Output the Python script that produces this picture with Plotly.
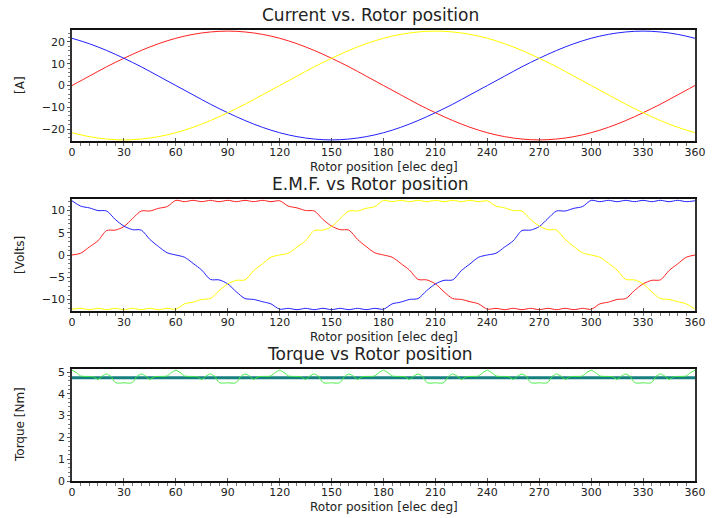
import plotly.graph_objects as go
from plotly.subplots import make_subplots

# ---------------- data ----------------
ANG_I = list(range(0, 361, 10))      # current sample angles [elec deg]
ANG_E = list(range(0, 361, 5))       # emf sample angles [elec deg]
ANG_T = [i * 2.5 for i in range(145)]  # torque sample angles [elec deg]

I_A = [0, 4.3, 8.6, 12.5, 16.1, 19.2, 21.7, 23.5, 24.6, 25.0, 24.6, 23.5, 21.7, 19.2, 16.1, 12.5, 8.6, 4.3,
       0, -4.3, -8.6, -12.5, -16.1, -19.2, -21.7, -23.5, -24.6, -25.0, -24.6, -23.5, -21.7, -19.2, -16.1, -12.5, -8.6, -4.3, 0]
I_B = [21.7, 19.2, 16.1, 12.5, 8.6, 4.3, 0, -4.3, -8.6, -12.5, -16.1, -19.2, -21.7, -23.5, -24.6, -25.0, -24.6, -23.5,
       -21.7, -19.2, -16.1, -12.5, -8.6, -4.3, 0, 4.3, 8.6, 12.5, 16.1, 19.2, 21.7, 23.5, 24.6, 25.0, 24.6, 23.5, 21.7]
I_C = [-21.7, -23.5, -24.6, -25.0, -24.6, -23.5, -21.7, -19.2, -16.1, -12.5, -8.6, -4.3, 0, 4.3, 8.6, 12.5, 16.1, 19.2,
       21.7, 23.5, 24.6, 25.0, 24.6, 23.5, 21.7, 19.2, 16.1, 12.5, 8.6, 4.3, 0, -4.3, -8.6, -12.5, -16.1, -19.2, -21.7]

E_A = [0, 0.4, 1.8, 3.2, 5.5, 5.6, 6.4, 8.2, 9.9, 9.9, 10.5, 10.9,
       12.3, 12.0, 12.3, 12.0, 12.3, 12.0, 12.3, 12.0, 12.3, 12.0, 12.3, 12.0,
       12.2, 11.0, 10.6, 10.0, 9.9, 8.0, 6.5, 5.7, 5.6, 3.5, 1.9, 0.5,
       0, -0.5, -1.9, -3.4, -5.5, -5.6, -6.5, -8.3, -9.8, -10.0, -10.5, -11.0,
       -12.2, -12.0, -12.3, -12.0, -12.3, -12.0, -12.3, -12.0, -12.3, -12.0, -12.3, -12.0,
       -12.2, -11.0, -10.6, -10.0, -9.8, -8.0, -6.5, -5.7, -5.6, -3.5, -2.0, -0.5, 0]
E_B = [12.2, 11.0, 10.6, 10.0, 9.9, 8.0, 6.5, 5.7, 5.6, 3.5, 1.9, 0.5,
       0, -0.5, -1.9, -3.4, -5.5, -5.6, -6.5, -8.3, -9.8, -10.0, -10.5, -11.0,
       -12.2, -12.0, -12.3, -12.0, -12.3, -12.0, -12.3, -12.0, -12.3, -12.0, -12.3, -12.0,
       -12.2, -11.0, -10.6, -10.0, -9.8, -8.0, -6.5, -5.7, -5.6, -3.5, -2.0, -0.5,
       0, 0.4, 1.8, 3.2, 5.5, 5.6, 6.4, 8.2, 9.9, 9.9, 10.5, 10.9,
       12.3, 12.0, 12.3, 12.0, 12.3, 12.0, 12.3, 12.0, 12.3, 12.0, 12.3, 12.0, 12.2]
E_C = [-12.2, -12.0, -12.3, -12.0, -12.3, -12.0, -12.3, -12.0, -12.3, -12.0, -12.3, -12.0,
       -12.2, -11.0, -10.6, -10.0, -9.8, -8.0, -6.5, -5.7, -5.6, -3.5, -2.0, -0.5,
       0, 0.4, 1.8, 3.2, 5.5, 5.6, 6.4, 8.2, 9.9, 9.9, 10.5, 10.9,
       12.3, 12.0, 12.3, 12.0, 12.3, 12.0, 12.3, 12.0, 12.3, 12.0, 12.3, 12.0,
       12.2, 11.0, 10.6, 10.0, 9.9, 8.0, 6.5, 5.7, 5.6, 3.5, 1.9, 0.5,
       0, -0.5, -1.9, -3.4, -5.5, -5.6, -6.5, -8.3, -9.8, -10.0, -10.5, -11.0, -12.2]

TORQUE = [5.08, 4.98, 4.82, 4.80, 4.80, 4.78, 4.66, 4.82, 4.91, 4.80, 4.52, 4.49, 4.51, 4.49, 4.52, 4.80, 4.91, 4.82, 4.66, 4.78, 4.80, 4.80, 4.82, 4.98,
          5.08, 4.98, 4.82, 4.80, 4.80, 4.78, 4.66, 4.82, 4.91, 4.80, 4.52, 4.49, 4.51, 4.49, 4.52, 4.80, 4.91, 4.82, 4.66, 4.78, 4.80, 4.80, 4.82, 4.98,
          5.08, 4.98, 4.82, 4.80, 4.80, 4.78, 4.66, 4.82, 4.91, 4.80, 4.52, 4.49, 4.51, 4.49, 4.52, 4.80, 4.91, 4.82, 4.66, 4.78, 4.80, 4.80, 4.82, 4.98,
          5.08, 4.98, 4.82, 4.80, 4.80, 4.78, 4.66, 4.82, 4.91, 4.80, 4.52, 4.49, 4.51, 4.49, 4.52, 4.80, 4.91, 4.82, 4.66, 4.78, 4.80, 4.80, 4.82, 4.98,
          5.08, 4.98, 4.82, 4.80, 4.80, 4.78, 4.66, 4.82, 4.91, 4.80, 4.52, 4.49, 4.51, 4.49, 4.52, 4.80, 4.91, 4.82, 4.66, 4.78, 4.80, 4.80, 4.82, 4.98,
          5.08, 4.98, 4.82, 4.80, 4.80, 4.78, 4.66, 4.82, 4.91, 4.80, 4.52, 4.49, 4.51, 4.49, 4.52, 4.80, 4.91, 4.82, 4.66, 4.78, 4.80, 4.80, 4.82, 4.98,
          5.08]
TORQUE_MEAN_X = [0, 360]
TORQUE_MEAN = [4.74, 4.74]

TITLES = ["Current vs. Rotor position", "E.M.F. vs Rotor position", "Torque vs Rotor position"]
Y_TITLES = ["[A]", "[Volts]", "Torque [Nm]"]
X_TITLE = "Rotor position [elec deg]"

# ---------------- figure ----------------
FONT = "DejaVu Sans"
W, H = 718, 518
L, R, T, B = 72, 23, 30, 37
PH = H - T - B

def py(p):
    return (H - B - p) / PH

def px(p):
    return (p - L) / (W - L - R)

fig = make_subplots(rows=3, cols=1)

RED, BLUE, YEL = "#ff2020", "#2020ff", "#ffff00"

for ys, c in ((I_A, RED), (I_B, BLUE), (I_C, YEL)):
    fig.add_trace(go.Scatter(x=ANG_I, y=ys, mode="lines", line=dict(color=c, width=1, shape="spline"),
                             showlegend=False), row=1, col=1)
for ys, c in ((E_A, RED), (E_B, BLUE), (E_C, YEL)):
    fig.add_trace(go.Scatter(x=ANG_E, y=ys, mode="lines", line=dict(color=c, width=1, shape="spline", smoothing=0.8),
                             showlegend=False), row=2, col=1)
fig.add_trace(go.Scatter(x=TORQUE_MEAN_X, y=TORQUE_MEAN, mode="lines", line=dict(color="#168080", width=3),
                         showlegend=False), row=3, col=1)
fig.add_trace(go.Scatter(x=ANG_T, y=TORQUE, mode="lines", line=dict(color="#44ee44", width=1, shape="spline", smoothing=0.6),
                         showlegend=False), row=3, col=1)

domains = [(py(141), py(30)), (py(311), py(199)), (py(481), py(369))]
yranges = [[-25.5, 25.5], [-12.6, 12.6], [0, 5.14]]
ydticks = [10, 5, 1]
yminor = [2, 1, 0.2]
for i in range(3):
    xa = "xaxis" if i == 0 else f"xaxis{i+1}"
    ya = "yaxis" if i == 0 else f"yaxis{i+1}"
    fig.layout[xa].update(domain=[0, 1], range=[0, 360], dtick=30, tick0=0, showgrid=False, zeroline=False,
                          showline=True, linecolor="#111", linewidth=2, mirror=True, automargin=False,
                          ticks="inside", ticklen=3, tickcolor="#555",
                          minor=dict(dtick=5, ticks="outside", ticklen=3, tickcolor="#777"),
                          tickfont=dict(family=FONT, size=11, color="#222"))
    fig.layout[ya].update(domain=list(domains[i]), range=yranges[i], dtick=ydticks[i], showgrid=False, zeroline=False,
                          showline=True, linecolor="#333", linewidth=1.5, mirror=True, automargin=False,
                          ticks="outside", ticklen=3, tickcolor="#555",
                          minor=dict(dtick=yminor[i], ticks="outside", ticklen=2, tickcolor="#777"),
                          tickfont=dict(family=FONT, size=11, color="#222"))

title_y = [15, 184, 354]
ytitle_y = [85, 255, 425]
xtitle_y = [167, 337, 507]
ann = []
for i in range(3):
    ann.append(dict(text=TITLES[i], x=px(370), y=py(title_y[i]), xref="paper", yref="paper",
                    xanchor="center", yanchor="middle", showarrow=False,
                    font=dict(family=FONT, size=17, color="#222")))
    ann.append(dict(text=Y_TITLES[i], x=px(20), y=py(ytitle_y[i]), xref="paper", yref="paper",
                    xanchor="center", yanchor="middle", showarrow=False, textangle=-90,
                    font=dict(family=FONT, size=12, color="#222")))
    ann.append(dict(text=X_TITLE, x=0.5, y=py(xtitle_y[i]), xref="paper", yref="paper",
                    xanchor="center", yanchor="middle", showarrow=False,
                    font=dict(family=FONT, size=12, color="#222")))

fig.update_layout(width=W, height=H, margin=dict(l=L, r=R, t=T, b=B, autoexpand=False), paper_bgcolor="white",
                  plot_bgcolor="white", annotations=ann, showlegend=False)

fig.write_html("out.html")
